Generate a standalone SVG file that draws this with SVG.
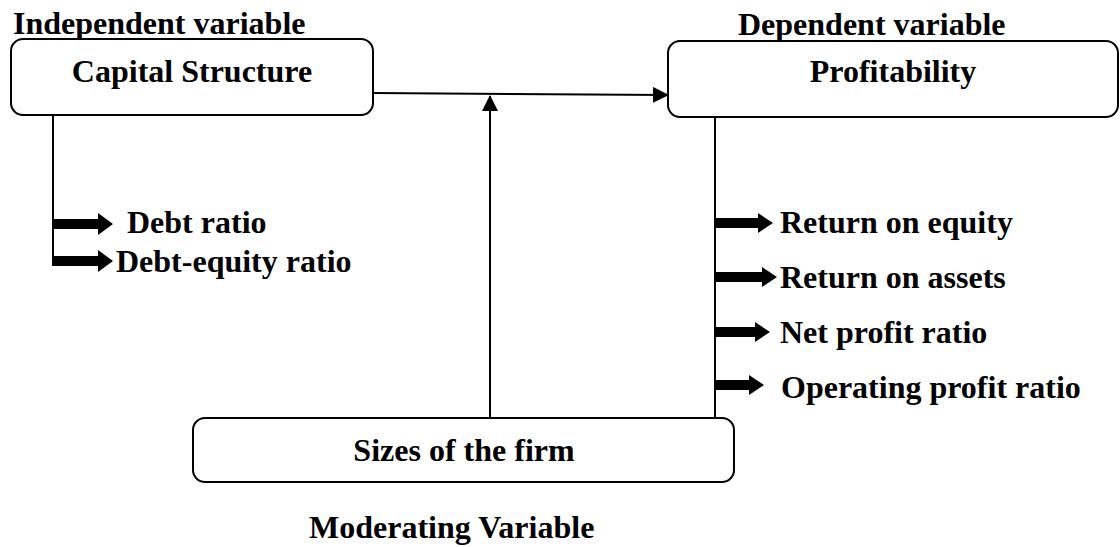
<svg xmlns="http://www.w3.org/2000/svg" width="1120" height="547" viewBox="0 0 1120 547">
<style>
.t{font-family:"Liberation Serif","Times New Roman",serif;font-weight:bold;font-size:32px;fill:#000}
.box{fill:#fff;stroke:#000;stroke-width:2}
.ln{fill:none;stroke:#000;stroke-width:2}
.blk{fill:#000;stroke:none}
</style>
<defs>
<marker id="ah" markerUnits="userSpaceOnUse" markerWidth="16" markerHeight="16" viewBox="0 0 16 16" refX="15" refY="8" orient="auto">
<path d="M0,0 L16,8 L0,16 Z" fill="#000"/>
</marker>
</defs>
<rect width="1120" height="547" fill="#fff"/>
<g id="connectors">
<line class="ln" x1="373" y1="93" x2="668" y2="95" marker-end="url(#ah)"/>
<line class="ln" x1="490" y1="418" x2="490" y2="96" marker-end="url(#ah)"/>
<line class="ln" x1="53" y1="115" x2="53" y2="266"/>
<line class="ln" x1="715" y1="117" x2="715" y2="418"/>
<path class="blk" d="M53,219 H98 V213 L113,224 L98,235 V229 H53 Z"/>
<path class="blk" d="M53,256 H98 V250 L113,261 L98,272 V266 H53 Z"/>
<path class="blk" d="M715,218 H758 V213 L773,223 L758,233 V228 H715 Z"/>
<path class="blk" d="M715,272 H762 V267 L777,277 L762,287 V282 H715 Z"/>
<path class="blk" d="M715,327 H755 V322 L770,332 L755,342 V337 H715 Z"/>
<path class="blk" d="M715,380 H749 V375 L764,385 L749,395 V390 H715 Z"/>
</g>
<g id="independent-label"><text class="t" x="13" y="34">Independent variable</text></g>
<g id="dependent-label"><text class="t" x="738" y="35">Dependent variable</text></g>
<g id="capital-structure">
<rect class="box" x="11" y="39" width="362" height="76" rx="12"/>
<text class="t" x="192" y="82" text-anchor="middle">Capital Structure</text>
</g>
<g id="profitability">
<rect class="box" x="668" y="41" width="450" height="76" rx="12"/>
<text class="t" x="893" y="82" text-anchor="middle">Profitability</text>
</g>
<g id="sizes">
<rect class="box" x="193" y="418" width="541" height="64" rx="12"/>
<text class="t" x="464" y="461" text-anchor="middle">Sizes of the firm</text>
</g>
<g id="capital-items">
<text class="t" x="127" y="233">Debt ratio</text>
<text class="t" x="116" y="272">Debt-equity ratio</text>
</g>
<g id="profit-items">
<text class="t" x="780" y="233">Return on equity</text>
<text class="t" x="780" y="288">Return on assets</text>
<text class="t" x="780" y="343">Net profit ratio</text>
<text class="t" x="781" y="398">Operating profit ratio</text>
</g>
<g id="moderating-label"><text class="t" x="309" y="538">Moderating Variable</text></g>
</svg>
